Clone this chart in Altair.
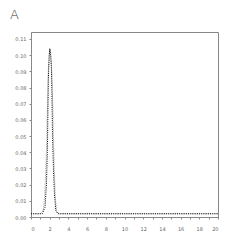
import altair as alt
import pandas as pd

# grey (wider) trace
grey_x = [0, 1.0, 1.3, 1.45, 1.55, 1.65, 1.72, 1.78, 1.85, 1.95, 2.05, 2.15, 2.25, 2.35, 2.42, 2.5, 2.6, 2.75, 3.0, 20]
grey_y = [0.002, 0.002, 0.004, 0.012, 0.025, 0.04, 0.06, 0.07, 0.09, 0.1, 0.104, 0.098, 0.085, 0.065, 0.045, 0.028, 0.012, 0.003, 0.002, 0.002]

# black (narrower) trace
black_x = [0, 1.2, 1.5, 1.65, 1.75, 1.8, 1.85, 1.95, 2.0, 2.1, 2.2, 2.25, 2.3, 2.4, 2.5, 2.65, 2.9, 20]
black_y = [0.002, 0.002, 0.006, 0.02, 0.04, 0.06, 0.085, 0.1, 0.104, 0.1, 0.09, 0.07, 0.05, 0.03, 0.015, 0.004, 0.002, 0.002]

x_ticks = list(range(0, 21))
y_ticks = [i / 100 for i in range(0, 12)]

df = pd.concat([
    pd.DataFrame({"x": grey_x, "y": grey_y, "s": "grey", "o": range(len(grey_x))}),
    pd.DataFrame({"x": black_x, "y": black_y, "s": "black", "o": range(len(black_x))}),
])

xenc = alt.X("x:Q", scale=alt.Scale(domain=[0, 20], nice=False),
             axis=alt.Axis(values=x_ticks, labelExpr="datum.value % 2 == 0 ? datum.label : ''",
                           title=None, grid=False, tickSize=2, labelFontSize=5,
                           labelPadding=7, domainColor="#888", tickColor="#888",
                           labelColor="#666", labelFont="DejaVu Sans"))
yenc = alt.Y("y:Q", scale=alt.Scale(domain=[0, 0.1143], nice=False),
             axis=alt.Axis(values=y_ticks, format=".2f", title=None, grid=False,
                           tickSize=2, labelFontSize=5, labelPadding=3,
                           domainColor="#888", tickColor="#888", labelColor="#666",
                           labelFont="DejaVu Sans"))

chart = alt.Chart(df).mark_line(strokeWidth=1, strokeDash=[1, 1.2]).encode(
    x=xenc, y=yenc, order="o:Q",
    detail="s:N",
    color=alt.Color("s:N", scale=alt.Scale(domain=["grey", "black"], range=["#999999", "#000000"]), legend=None),
).properties(
    width=187, height=185,
    title=alt.TitleParams("A", anchor="start", frame="group", fontSize=13, fontWeight=300,
                          font="DejaVu Sans", color="#333", dx=-21, dy=-6),
    autosize=alt.AutoSizeParams(type="none"),
    padding={"left": 23, "top": 24, "right": 23, "bottom": 24},
).configure_view(stroke="#888", strokeWidth=1)

chart.save("out.html", embed_options={"renderer": "svg", "actions": False})
